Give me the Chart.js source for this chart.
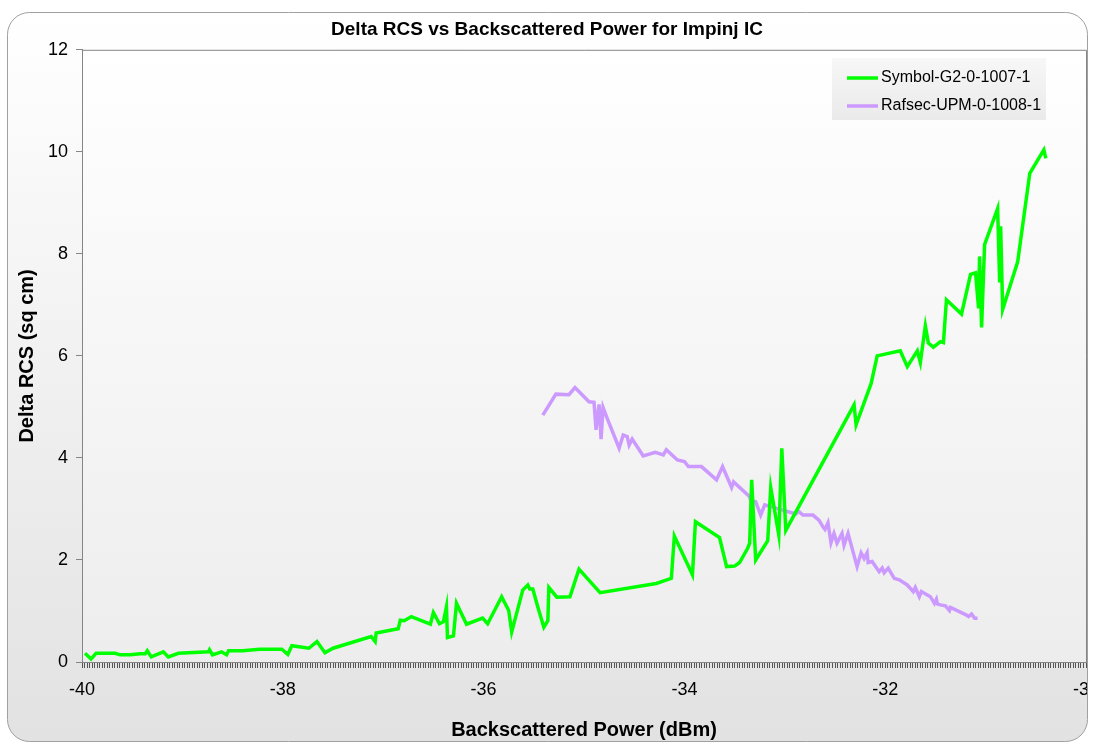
<!DOCTYPE html>
<html>
<head>
<meta charset="utf-8">
<title>Delta RCS vs Backscattered Power for Impinj IC</title>
<script src="https://cdn.jsdelivr.net/npm/chart.js@4.4.1/dist/chart.umd.min.js"></script>
<style>
  html, body { margin: 0; padding: 0; background: #ffffff; }
  #wrap { width: 1097px; height: 744px; }
</style>
</head>
<body>
<div id="wrap"><canvas id="rcsChart" width="1097" height="744"></canvas></div>
<script>
// Series labels
const seriesNames = ['Symbol-G2-0-1007-1', 'Rafsec-UPM-0-1008-1'];

// Symbol-G2-0-1007-1 (backscattered power dBm / delta RCS sq cm)
const symbolX = [-39.97, -39.91, -39.86, -39.67, -39.62, -39.52, -39.42, -39.37, -39.35, -39.31,
  -39.19, -39.14, -39.04, -38.74, -38.73, -38.70, -38.61, -38.56, -38.54, -38.40,
  -38.23, -38.01, -37.95, -37.91, -37.74, -37.66, -37.58, -37.50, -37.12, -37.08,
  -37.07, -36.85, -36.83, -36.79, -36.72, -36.53, -36.50, -36.44, -36.40, -36.37,
  -36.36, -36.30, -36.27, -36.17, -36.01, -35.96, -35.82, -35.75, -35.72, -35.61,
  -35.56, -35.54, -35.51, -35.46, -35.40, -35.36, -35.35, -35.27, -35.14, -35.05,
  -34.84, -34.28, -34.13, -34.10, -33.92, -33.89, -33.65, -33.58, -33.50, -33.45,
  -33.37, -33.35, -33.33, -33.29, -33.17, -33.14, -33.06, -33.03, -32.99, -32.31,
  -32.29, -32.14, -32.08, -31.85, -31.78, -31.68, -31.65, -31.60, -31.57, -31.52,
  -31.45, -31.42, -31.39, -31.24, -31.15, -31.10, -31.07, -31.06, -31.04, -31.01,
  -30.88, -30.86, -30.85, -30.83, -30.68, -30.56, -30.42, -30.40];
const symbolY = [0.17, 0.06, 0.17, 0.17, 0.14, 0.14, 0.16, 0.16, 0.22, 0.10,
  0.20, 0.10, 0.17, 0.20, 0.24, 0.14, 0.20, 0.14, 0.22, 0.22,
  0.25, 0.25, 0.15, 0.32, 0.27, 0.40, 0.18, 0.27, 0.50, 0.40,
  0.57, 0.65, 0.82, 0.81, 0.89, 0.74, 0.97, 0.75, 0.79, 1.08,
  0.48, 0.51, 1.15, 0.74, 0.86, 0.75, 1.28, 1.01, 0.59, 1.41,
  1.51, 1.43, 1.43, 1.08, 0.68, 0.81, 1.46, 1.27, 1.28, 1.82,
  1.36, 1.54, 1.64, 2.47, 1.71, 2.75, 2.44, 1.87, 1.88, 1.95,
  2.23, 2.33, 3.57, 2.00, 2.38, 3.42, 2.49, 4.19, 2.58, 5.04,
  4.65, 5.46, 6.00, 6.10, 5.79, 6.10, 5.87, 6.59, 6.25, 6.17,
  6.28, 6.26, 7.10, 6.82, 7.60, 7.63, 6.93, 7.95, 6.56, 8.18,
  8.89, 7.44, 8.54, 6.91, 7.85, 9.58, 10.04, 9.87];

// Rafsec-UPM-0-1008-1
const rafsecX = [-35.41, -35.28, -35.15, -35.09, -34.95, -34.90, -34.88, -34.85, -34.83, -34.81,
  -34.77, -34.65, -34.61, -34.57, -34.55, -34.52, -34.41, -34.29, -34.21, -34.18,
  -34.07, -34.00, -33.96, -33.83, -33.68, -33.62, -33.53, -33.51, -33.35, -33.34,
  -33.29, -33.24, -33.20, -32.89, -32.86, -32.82, -32.72, -32.66, -32.62, -32.60,
  -32.57, -32.54, -32.51, -32.48, -32.43, -32.41, -32.37, -32.28, -32.24, -32.21,
  -32.18, -32.17, -32.13, -32.06, -32.03, -32.01, -31.97, -31.91, -31.86, -31.78,
  -31.72, -31.70, -31.66, -31.64, -31.55, -31.51, -31.49, -31.48, -31.45, -31.40,
  -31.36, -31.35, -31.19, -31.17, -31.14, -31.11, -31.08];
const rafsecY = [4.84, 5.25, 5.24, 5.38, 5.10, 5.09, 4.55, 5.05, 4.37, 4.99,
  4.78, 4.19, 4.45, 4.42, 4.25, 4.37, 4.04, 4.11, 4.06, 4.16,
  3.96, 3.93, 3.83, 3.83, 3.57, 3.83, 3.42, 3.53, 3.24, 3.16,
  3.14, 2.88, 3.08, 2.90, 2.95, 2.88, 2.88, 2.78, 2.65, 2.60,
  2.73, 2.34, 2.52, 2.33, 2.52, 2.29, 2.52, 1.87, 2.14, 2.03,
  2.14, 1.95, 1.97, 1.77, 1.84, 1.75, 1.84, 1.64, 1.61, 1.51,
  1.38, 1.46, 1.28, 1.38, 1.28, 1.15, 1.23, 1.14, 1.12, 1.10,
  1.01, 1.07, 0.92, 0.89, 0.94, 0.86, 0.86];

// Axis tick labels
const xTickLabels = [-40, -38, -36, -34, -32, -30];
const yTickLabels = [0, 2, 4, 6, 8, 10, 12];

const FONT = "'Liberation Sans', Arial, sans-serif";
const AXIS_GRAY = '#858585';

function toPoints(xs, ys) {
  return xs.map((x, i) => ({ x: x, y: ys[i] }));
}

/**
 * Card + plot area backgrounds (Excel-like gradient)
 */
const backgroundPlugin = {
  id: 'backgroundPlugin',
  beforeDraw(chart) {
    const ctx = chart.ctx;
    const area = chart.chartArea;
    ctx.save();
    ctx.fillStyle = '#ffffff';
    ctx.fillRect(0, 0, chart.width, chart.height);

    // rounded card
    const card = ctx.createLinearGradient(0, 12, 0, 742);
    card.addColorStop(0, '#ffffff');
    card.addColorStop(1, '#e2e2e2');
    ctx.beginPath();
    ctx.roundRect(7.5, 12.5, 1080, 729, 22);
    ctx.fillStyle = card;
    ctx.fill();

    // plot area
    const plot = ctx.createLinearGradient(0, area.top, 0, area.bottom);
    plot.addColorStop(0, '#ffffff');
    plot.addColorStop(1, '#ededed');
    ctx.fillStyle = plot;
    ctx.fillRect(area.left, area.top, area.right - area.left, area.bottom - area.top);

    // top and right edges of the plot frame
    ctx.strokeStyle = AXIS_GRAY;
    ctx.lineWidth = 1;
    ctx.beginPath();
    ctx.moveTo(area.left, area.top + 0.5);
    ctx.lineTo(area.right + 0.5, area.top + 0.5);
    ctx.lineTo(area.right + 0.5, area.bottom);
    ctx.stroke();
    ctx.restore();
  },
  afterDraw(chart) {
    const ctx = chart.ctx;
    ctx.save();
    // trim anything past the card edge, then stroke the card
    ctx.fillStyle = '#ffffff';
    ctx.fillRect(1088, 0, chart.width - 1088, chart.height);
    ctx.beginPath();
    ctx.roundRect(7.5, 12.5, 1080, 729, 22);
    ctx.strokeStyle = '#a0a0a0';
    ctx.lineWidth = 1;
    ctx.stroke();
    ctx.restore();
  }
};

/**
 * Legend box drawn inside the plot, top right
 */
const insideLegendPlugin = {
  id: 'insideLegendPlugin',
  afterDatasetsDraw(chart) {
    const ctx = chart.ctx;
    const box = { x: 832, y: 58, w: 214, h: 62 };
    ctx.save();
    const g = ctx.createLinearGradient(0, box.y, 0, box.y + box.h);
    g.addColorStop(0, '#f7f7f7');
    g.addColorStop(1, '#eaeaea');
    ctx.fillStyle = g;
    ctx.fillRect(box.x, box.y, box.w, box.h);

    ctx.font = '16px ' + FONT;
    ctx.textBaseline = 'middle';
    ctx.textAlign = 'left';
    chart.data.datasets.forEach((ds, i) => {
      const y = box.y + 20 + i * 28;
      ctx.strokeStyle = ds.borderColor;
      ctx.lineWidth = 3.5;
      ctx.beginPath();
      ctx.moveTo(box.x + 15, y);
      ctx.lineTo(box.x + 46, y);
      ctx.stroke();
      ctx.fillStyle = '#000000';
      ctx.fillText(ds.label, box.x + 49, y);
    });
    ctx.restore();
  }
};

function renderChart() {
  const canvas = document.getElementById('rcsChart');

  new Chart(canvas, {
    type: 'scatter',
    data: {
      datasets: [
        {
          label: seriesNames[0],
          data: toPoints(symbolX, symbolY),
          showLine: true,
          borderColor: '#00ff00',
          backgroundColor: '#00ff00',
          borderWidth: 3.5,
          pointRadius: 0,
          tension: 0
        },
        {
          label: seriesNames[1],
          data: toPoints(rafsecX, rafsecY),
          showLine: true,
          borderColor: '#cc99ff',
          backgroundColor: '#cc99ff',
          borderWidth: 3.5,
          pointRadius: 0,
          tension: 0
        }
      ]
    },
    options: {
      responsive: false,
      animation: false,
      devicePixelRatio: 1,
      layout: {
        padding: { left: 8, right: 11, top: 0, bottom: 0 }
      },
      scales: {
        x: {
          type: 'linear',
          min: -40,
          max: -30,
          afterFit(scale) {
            scale.height = 82;
            scale.paddingLeft = 0;
            scale.paddingRight = 0;
          },
          ticks: {
            stepSize: 0.025,
            autoSkip: false,
            maxRotation: 0,
            minRotation: 0,
            padding: 11,
            color: '#000000',
            font: { family: FONT, size: 18 },
            callback(value) {
              const v = Math.round(value * 1000) / 1000;
              return xTickLabels.includes(v) ? String(v) : '';
            }
          },
          grid: {
            drawOnChartArea: false,
            drawTicks: true,
            tickLength: 6,
            lineWidth: 1,
            color: '#555555'
          },
          border: { display: true, color: AXIS_GRAY },
          title: {
            display: true,
            text: 'Backscattered Power (dBm)',
            color: '#000000',
            font: { family: FONT, size: 20, weight: 'bold' },
            padding: { top: 0, bottom: 2 }
          }
        },
        y: {
          type: 'linear',
          min: 0,
          max: 12,
          afterFit(scale) {
            scale.width = 74;
            scale.paddingTop = 0;
            scale.paddingBottom = 0;
          },
          ticks: {
            stepSize: 2,
            padding: 8,
            color: '#000000',
            font: { family: FONT, size: 18 },
            callback(value) {
              return yTickLabels.includes(value) ? String(value) : '';
            }
          },
          grid: {
            drawOnChartArea: false,
            drawTicks: true,
            tickLength: 6,
            color: AXIS_GRAY
          },
          border: { display: true, color: AXIS_GRAY },
          title: {
            display: true,
            text: 'Delta RCS (sq cm)',
            color: '#000000',
            font: { family: FONT, size: 20, weight: 'bold' },
            padding: { top: 7, bottom: 0 }
          }
        }
      },
      plugins: {
        legend: { display: false },
        tooltip: { enabled: false },
        title: {
          display: true,
          text: 'Delta RCS vs Backscattered Power for Impinj IC',
          color: '#000000',
          font: { family: FONT, size: 19, weight: 'bold' },
          padding: { top: 18, bottom: 9 }
        }
      }
    },
    plugins: [backgroundPlugin, insideLegendPlugin]
  });
}

renderChart();
</script>
</body>
</html>
